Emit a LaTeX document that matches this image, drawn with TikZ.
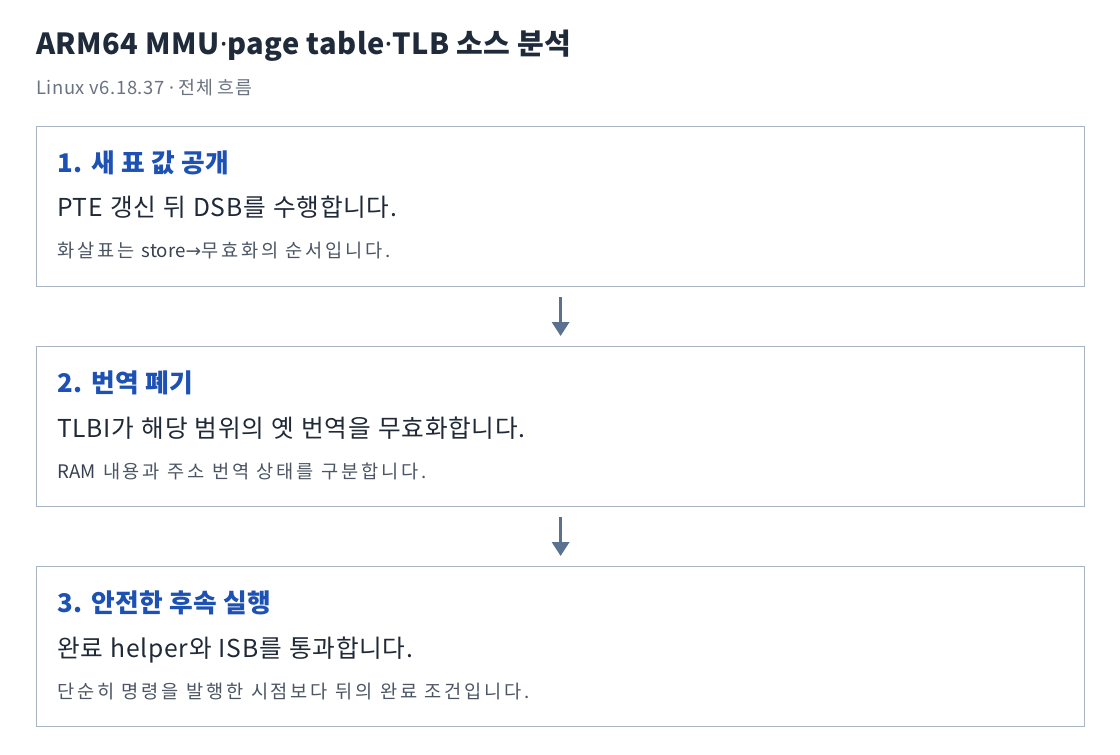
\documentclass[tikz,border=0pt]{standalone}
\usepackage{fontspec}
\setmainfont{Noto Sans CJK KR}
\newfontfamily\latf{Noto Sans}
\newfontfamily\symf{DejaVu Sans}
\usetikzlibrary{arrows.meta}
\definecolor{titlec}{HTML}{1F2A3A}
\definecolor{headc}{HTML}{1D52B4}
\definecolor{bodyc}{HTML}{1F2937}
\definecolor{smallc}{HTML}{4B5563}
\definecolor{latc}{HTML}{374151}
\definecolor{subc}{HTML}{6B7280}
\definecolor{borderc}{HTML}{A9B4C2}
\definecolor{arrowc}{HTML}{5A7290}
\newcommand{\mdot}{{\latf ·}}
\newcommand{\tightlat}[1]{{\addfontfeature{LetterSpace=0}\color{latc}#1}}
\newcommand{\bodysp}{\spaceskip 0.29em\relax}
\newcommand{\smallsp}{\spaceskip 0.4em\relax}
\tikzset{
  stepbox/.style={draw=borderc, line width=0.9pt, rectangle, minimum width=786pt, minimum height=120pt, inner sep=0pt, anchor=north west},
  headtxt/.style={anchor=base west, inner sep=0pt, text=headc, font=\fontsize{19.3pt}{22pt}\selectfont\bfseries\addfontfeature{LetterSpace=2}},
  bodytxt/.style={anchor=base west, inner sep=0pt, text=bodyc, font={\fontsize{18.5pt}{22pt}\selectfont\addfontfeature{LetterSpace=3}\bodysp}},
  smalltxt/.style={anchor=base west, inner sep=0pt, text=smallc, font={\fontsize{14pt}{17pt}\selectfont\addfontfeature{LetterSpace=15}\smallsp}},
  flow/.style={draw=arrowc, line width=2.3pt, -{Triangle[width=12.8pt,length=10.5pt]}, shorten <=7.5pt, shorten >=7.5pt}
}
\begin{document}
\begin{tikzpicture}[x=0.75pt,y=-0.75pt]
\useasboundingbox[fill=white] (0,0) rectangle (1120,754);
\node[anchor=base west, inner sep=0pt, text=titlec, font=\fontsize{21.8pt}{26pt}\selectfont\bfseries\addfontfeature{LetterSpace=1.5}] (title) at (36,54) {ARM64 MMU\mdot page table\mdot TLB 소스 분석};
\node[anchor=base west, inner sep=0pt, text=subc, font=\fontsize{13.8pt}{16pt}\selectfont\addfontfeature{LetterSpace=3}] (sub) at (36,94) {Linux v6.18.37 \mdot{} 전체 흐름};
\node[stepbox] (b1) at (36,126) {};
\node[stepbox] (b2) at (36,346) {};
\node[stepbox] (b3) at (36,566) {};
\node[headtxt] (h1) at (57,172) {1. 새 표 값 공개};
\node[bodytxt] (t1) at (57,216) {PTE 갱신 뒤 DSB를 수행합니다.};
\node[smalltxt] (s1) at (57,257) {화살표는 \tightlat{store}{\symf →}무효화의 순서입니다.};
\node[headtxt] (h2) at (57,392) {2. 번역 폐기};
\node[bodytxt] (t2) at (57,437) {TLBI가 해당 범위의 옛 번역을 무효화합니다.};
\node[smalltxt] (s2) at (57,478) {\tightlat{RAM} 내용과 주소 번역 상태를 구분합니다.};
\node[headtxt] (h3) at (57,612) {3. 안전한 후속 실행};
\node[bodytxt] (t3) at (57,657) {완료 helper와 ISB를 통과합니다.};
\node[smalltxt] (s3) at (57,698) {단순히 명령을 발행한 시점보다 뒤의 완료 조건입니다.};
\draw[flow] (b1.south) -- (b2.north);
\draw[flow] (b2.south) -- (b3.north);
\end{tikzpicture}
\end{document}
